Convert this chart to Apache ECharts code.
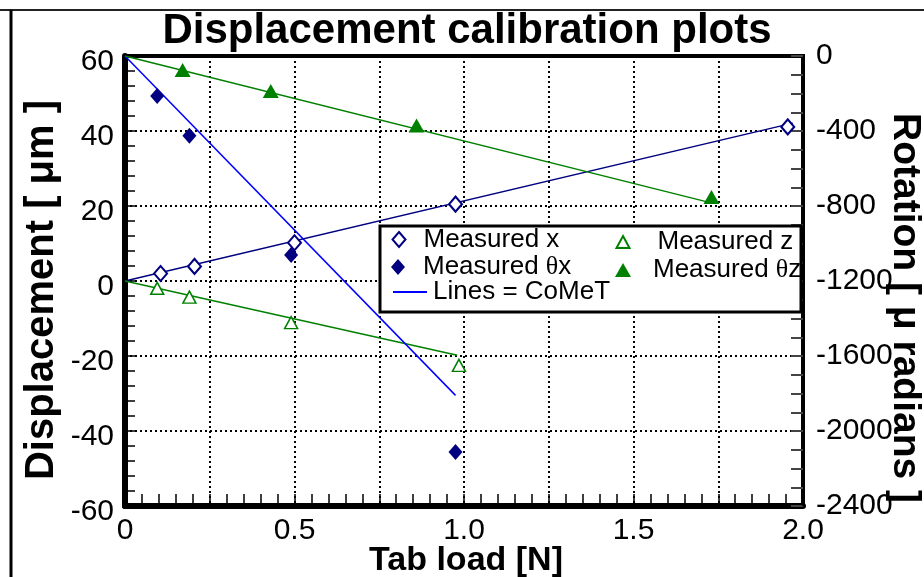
<!DOCTYPE html>
<html>
<head>
<meta charset="utf-8">
<script src="https://cdn.jsdelivr.net/npm/echarts@6/dist/echarts.min.js"></script>
<style>
  html, body { margin: 0; padding: 0; background: #fff; }
  #chart { width: 924px; height: 577px; }
</style>
</head>
<body>
<div id="chart"></div>
<script>
// Measured displacement x  [N, µm]
const loadX = [0.105, 0.205, 0.5, 0.975, 1.955];
const dispX = [2.0, 3.9, 10.2, 20.5, 41.1];
// Measured displacement z  [N, µm]
const loadZ = [0.095, 0.19, 0.49, 0.985];
const dispZ = [-1.95, -4.3, -11.1, -22.5];
// Measured rotation θx  [N, µrad]
const loadThX = [0.095, 0.19, 0.49, 0.975];
const rotThX = [-213, -425, -1061, -2112];
// Measured rotation θz  [N, µrad]
const loadThZ = [0.17, 0.43, 0.86, 1.73];
const rotThZ = [-75, -186, -371, -752];
// CoMeT model lines (end points)
const cometXLoad = [0, 1.97];
const cometXDisp = [0, 42.1];
const cometZLoad = [0, 0.98];
const cometZDisp = [0, -19.8];
const cometThXLoad = [0, 0.975];
const cometThXRot = [0, -1810];
const cometThZLoad = [0, 1.735];
const cometThZRot = [0, -786];
// Axis labels
const xTickLabels = ['0', '0.5', '1.0', '1.5', '2.0'];

const FONT = '"Liberation Sans", Arial, Helvetica, sans-serif';
const NAVY = '#000080';
const BLUE = '#0000ff';
const GREEN = '#008000';

const zip = (a, b) => a.map((v, i) => [v, b[i]]);

const chart = echarts.init(document.getElementById('chart'), null, { renderer: 'canvas' });

const legendText = {
  fontFamily: FONT,
  fontSize: 26,
  color: '#000',
  rich: { g: { fontFamily: '"Liberation Serif", "Times New Roman", serif', fontSize: 26, color: '#000' } }
};
const greek = name => name.replace('θ', '{g|θ}');

function legendItem(name, icon, left, top, w, h, pad) {
  return {
    data: [{ name: name, icon: icon }],
    left: left, top: top, padding: 0,
    itemWidth: w, itemHeight: h,
    z: 60,
    selectedMode: false,
    formatter: greek,
    textStyle: Object.assign({ padding: [0, 0, 0, pad] }, legendText)
  };
}

const option = {
  animation: false,
  backgroundColor: '#fff',
  textStyle: { fontFamily: FONT },
  grid: {
    left: 125, right: 121, top: 56, bottom: 71,
    show: true, borderColor: '#000', borderWidth: 4, backgroundColor: 'transparent'
  },
  xAxis: {
    type: 'value', min: 0, max: 2, interval: 0.25,
    axisLine: { show: true, onZero: false, lineStyle: { color: '#000', width: 6 } },
    axisTick: { show: true, inside: true, length: 12, lineStyle: { color: '#000', width: 1.5 } },
    minorTick: { show: true, splitNumber: 5, length: 12, lineStyle: { color: '#000', width: 1.5 } },
    splitLine: { show: true, lineStyle: { color: '#000', width: 2, type: [2, 3] } },
    axisLabel: {
      fontSize: 30, color: '#000', margin: 10, fontFamily: FONT,
      formatter: v => {
        const k = Math.round(v * 2);
        return Math.abs(v * 2 - k) < 1e-9 ? xTickLabels[k] : '';
      }
    }
  },
  yAxis: [
    {
      type: 'value', min: -60, max: 60, interval: 20, position: 'left',
      axisLine: { show: true, onZero: false, lineStyle: { color: '#000', width: 6 } },
      axisTick: { show: true, inside: true, length: 10, lineStyle: { color: '#000', width: 1.5 } },
      minorTick: { show: true, splitNumber: 5, length: 10, lineStyle: { color: '#000', width: 1.5 } },
      splitLine: { show: true, lineStyle: { color: '#000', width: 2, type: [2, 3] } },
      axisLabel: {
        color: '#000', margin: 11, fontFamily: FONT,
        formatter: v => '{t|' + v + '}',
        rich: { t: { fontSize: 30, fontFamily: FONT, color: '#000', padding: [12, 0, 0, 0] } }
      }
    },
    {
      type: 'value', min: -2400, max: 0, interval: 400, position: 'right',
      axisLine: { show: true, onZero: false, lineStyle: { color: '#000', width: 4 } },
      axisTick: { show: true, inside: true, length: 12, lineStyle: { color: '#444', width: 2 } },
      minorTick: { show: true, splitNumber: 4, length: 12, lineStyle: { color: '#444', width: 2 } },
      splitLine: { show: false },
      axisLabel: { fontSize: 30, color: '#000', margin: 13, fontFamily: FONT, formatter: v => String(v) }
    }
  ],
  legend: [
    legendItem('Measured x', 'diamond', 391.5, 226.5, 13, 15, 13),
    legendItem('Measured θx', 'diamond', 391, 254, 14, 16, 13),
    legendItem('Lines = CoMeT', 'rect', 393, 279, 34, 2, 1),
    legendItem('Measured z', 'triangle', 615.5, 229, 13, 12, 23),
    legendItem('Measured θz', 'triangle', 615, 257, 16, 14, 17)
  ],
  graphic: {
    elements: [
      { type: 'line', z: 40, shape: { x1: 0, y1: 10, x2: 924, y2: 10 }, style: { stroke: '#222', lineWidth: 2 } },
      { type: 'line', z: 40, shape: { x1: 11, y1: 10, x2: 11, y2: 577 }, style: { stroke: '#000', lineWidth: 3 } },
      { type: 'rect', z: 50, shape: { x: 380, y: 226, width: 421, height: 86 }, style: { fill: '#fff', stroke: '#000', lineWidth: 3 } },
      { type: 'text', z: 55, x: 467, y: 31, style: { text: 'Displacement calibration plots', font: 'bold 42px ' + FONT, fill: '#000', align: 'center', verticalAlign: 'middle' } },
      { type: 'text', z: 55, x: 42, y: 290, rotation: Math.PI / 2, style: { text: 'Displacement [ μm ]', font: 'bold 40px ' + FONT, fill: '#000', align: 'center', verticalAlign: 'middle' } },
      { type: 'text', z: 55, x: 905, y: 308, rotation: -Math.PI / 2, style: { text: 'Rotation [ μ radians ]', font: 'bold 39px ' + FONT, fill: '#000', align: 'center', verticalAlign: 'middle' } },
      { type: 'text', z: 55, x: 466, y: 561, style: { text: 'Tab load [N]', font: 'bold 34px ' + FONT, fill: '#000', align: 'center', verticalAlign: 'middle' } }
    ]
  },
  series: [
    {
      name: 'CoMeT x', type: 'line', xAxisIndex: 0, yAxisIndex: 0, z: 3,
      symbol: 'none', data: zip(cometXLoad, cometXDisp),
      lineStyle: { color: NAVY, width: 1.5 }, itemStyle: { color: NAVY }
    },
    {
      name: 'CoMeT z', type: 'line', xAxisIndex: 0, yAxisIndex: 0, z: 3,
      symbol: 'none', data: zip(cometZLoad, cometZDisp),
      lineStyle: { color: GREEN, width: 1.5 }, itemStyle: { color: GREEN }
    },
    {
      name: 'Lines = CoMeT', type: 'line', xAxisIndex: 0, yAxisIndex: 1, z: 3,
      symbol: 'none', data: zip(cometThXLoad, cometThXRot),
      lineStyle: { color: BLUE, width: 1.5 }, itemStyle: { color: BLUE }
    },
    {
      name: 'CoMeT θz', type: 'line', xAxisIndex: 0, yAxisIndex: 1, z: 3,
      symbol: 'none', data: zip(cometThZLoad, cometThZRot),
      lineStyle: { color: GREEN, width: 1.5 }, itemStyle: { color: GREEN }
    },
    {
      name: 'Measured x', type: 'scatter', yAxisIndex: 0, z: 5,
      symbol: 'diamond', symbolSize: [13, 15], data: zip(loadX, dispX),
      itemStyle: { color: '#fff', borderColor: NAVY, borderWidth: 2, opacity: 1 }
    },
    {
      name: 'Measured θx', type: 'scatter', yAxisIndex: 1, z: 5,
      symbol: 'diamond', symbolSize: [14, 16], data: zip(loadThX, rotThX),
      itemStyle: { color: NAVY, opacity: 1 }
    },
    {
      name: 'Measured z', type: 'scatter', yAxisIndex: 0, z: 5,
      symbol: 'triangle', symbolSize: [13, 12], data: zip(loadZ, dispZ),
      itemStyle: { color: '#fff', borderColor: GREEN, borderWidth: 1.5, opacity: 1 }
    },
    {
      name: 'Measured θz', type: 'scatter', yAxisIndex: 1, z: 5,
      symbol: 'triangle', symbolSize: [16, 14], data: zip(loadThZ, rotThZ),
      itemStyle: { color: GREEN, opacity: 1 }
    }
  ]
};

chart.setOption(option);
</script>
</body>
</html>
